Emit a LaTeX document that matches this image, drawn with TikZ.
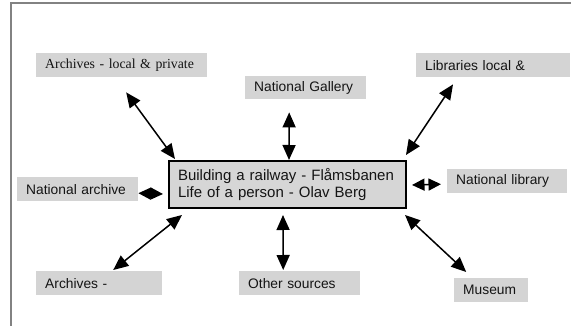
\documentclass[tikz,border=0pt]{standalone}
\usepackage{fontspec}
\setmainfont{Liberation Sans}
\newfontfamily\tmsfont{Liberation Serif}
\usetikzlibrary{arrows.meta,calc}
\definecolor{boxgray}{RGB}{212,212,212}
\definecolor{cengray}{RGB}{214,214,214}
\definecolor{framegray}{RGB}{130,130,130}
\definecolor{txt}{RGB}{20,20,20}
\tikzset{
  lbl/.style={anchor=north west, fill=boxgray, inner xsep=9pt, inner ysep=0pt, align=left, text=txt,
    font=\fontsize{13.8}{16}\selectfont},
  bigarrow/.style={line width=1.5pt, {Triangle[length=15pt,width=13pt]}-{Triangle[length=15pt,width=13pt]}},
  smallarrow/.style={line width=1.5pt, {Triangle[length=12.5pt,width=12pt]}-{Triangle[length=12.5pt,width=12pt]}},
}
\begin{document}
\begin{tikzpicture}[x=1pt,y=-1pt]
\useasboundingbox (0,0) rectangle (571,326);
\draw[framegray, line width=2pt] (11,327) -- (11,3) -- (572,3);

\node[lbl, text width=153pt, minimum height=24pt, font=\tmsfont\fontsize{13.8}{16}\selectfont] (arcLP) at (36,53) {Archives - local \& private};
\node[lbl, text width=103pt, minimum height=23pt] (gal) at (245,76) {National Gallery};
\node[lbl, text width=136pt, minimum height=24pt] (lib) at (416,53) {Libraries local \&};
\node[lbl, text width=103pt, minimum height=24pt] (narch) at (17,177) {National archive};
\node[lbl, text width=102pt, minimum height=24pt] (nlib) at (447,169) {National library};
\node[lbl, text width=108pt, minimum height=24pt] (arc) at (36,271) {Archives -};
\node[lbl, text width=103pt, minimum height=24pt] (other) at (239,271) {Other sources};
\node[lbl, text width=56pt, minimum height=24pt] (mus) at (454,278) {Museum};

\node[anchor=north west, draw=black, line width=2pt, fill=cengray, inner xsep=9pt, inner ysep=0pt,
  text width=219pt, minimum height=47pt, align=left, text=txt,
  font=\fontsize{15}{17.5}\selectfont] (c) at (168,160)
  {Building a railway - Flåmsbanen\\Life of a person - Olav Berg};

\draw[bigarrow] ($(arcLP.south)+(4.5,15)$) -- ($(c.north west)+(7,-1)$);
\draw[bigarrow] ($(gal.south)+(-16.5,13)$) -- ($(c.north west)+(121,0)$);
\draw[bigarrow] ($(lib.south west)+(37,7)$) -- ($(c.north east)+(-1,-5)$);
\draw[smallarrow] ($(narch.east)+(0,4)$) -- ($(c.west)+(-5,9.5)$);
\draw[smallarrow] ($(c.east)+(5,0.5)$) -- ($(nlib.west)+(-6,3)$);
\draw[bigarrow] ($(c.south west)+(14,6)$) -- ($(arc.north)+(14,-1)$);
\draw[bigarrow] ($(c.south west)+(115,6)$) -- ($(other.north)+(-16.5,-1)$);
\draw[bigarrow] ($(c.south east)+(-2,6)$) -- ($(mus.north)+(-25,-6)$);
\end{tikzpicture}
\end{document}
